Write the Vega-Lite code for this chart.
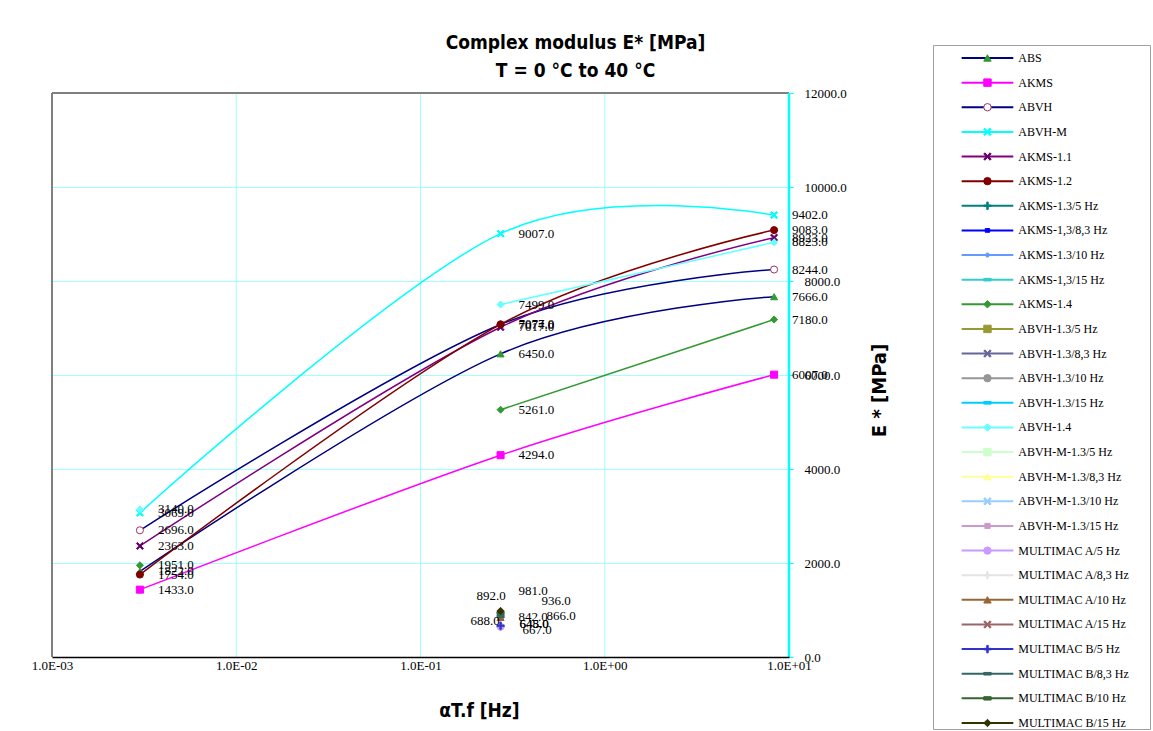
{
  "$schema": "https://vega.github.io/schema/vega-lite/v6.json",
  "background": "white",
  "padding": {"left": 31, "top": 33, "right": 0, "bottom": 0},
  "spacing": 43,
  "config": {"view": {"stroke": null}, "font": "Liberation Serif"},
  "datasets": {
    "pts": [
      {"s": "ABS", "f": 0.003, "E": 1822, "g": "a"},
      {"s": "ABS", "f": 0.272, "E": 6450, "g": "a"},
      {"s": "ABS", "f": 8.3, "E": 7666, "g": "a"},
      {"s": "AKMS", "f": 0.003, "E": 1433, "g": "a"},
      {"s": "AKMS", "f": 0.272, "E": 4294, "g": "a"},
      {"s": "AKMS", "f": 8.3, "E": 6007, "g": "a"},
      {"s": "ABVH", "f": 0.003, "E": 2696, "g": "a"},
      {"s": "ABVH", "f": 0.272, "E": 7074, "g": "a"},
      {"s": "ABVH", "f": 8.3, "E": 8244, "g": "a"},
      {"s": "ABVH-M", "f": 0.003, "E": 3069, "g": "a"},
      {"s": "ABVH-M", "f": 0.272, "E": 9007, "g": "a"},
      {"s": "ABVH-M", "f": 8.3, "E": 9402, "g": "a"},
      {"s": "AKMS-1.1", "f": 0.003, "E": 2363, "g": "a"},
      {"s": "AKMS-1.1", "f": 0.272, "E": 7017, "g": "a"},
      {"s": "AKMS-1.1", "f": 8.3, "E": 8923, "g": "a"},
      {"s": "AKMS-1.2", "f": 0.003, "E": 1754, "g": "a"},
      {"s": "AKMS-1.2", "f": 0.272, "E": 7077, "g": "a"},
      {"s": "AKMS-1.2", "f": 8.3, "E": 9083, "g": "a"},
      {"s": "AKMS-1.4", "f": 0.003, "E": 1951, "g": "iso"},
      {"s": "AKMS-1.4", "f": 0.272, "E": 5261, "g": "a"},
      {"s": "AKMS-1.4", "f": 8.3, "E": 7180, "g": "a"},
      {"s": "ABVH-1.4", "f": 0.003, "E": 3140, "g": "iso"},
      {"s": "ABVH-1.4", "f": 0.272, "E": 7499, "g": "a"},
      {"s": "ABVH-1.4", "f": 8.3, "E": 8823, "g": "a"},
      {"s": "AKMS-1.3/5 Hz", "f": 0.272, "E": 648, "g": "a"},
      {"s": "MULTIMAC A/5 Hz", "f": 0.272, "E": 645, "g": "a"},
      {"s": "MULTIMAC A/8,3 Hz", "f": 0.272, "E": 688, "g": "a"},
      {"s": "MULTIMAC A/10 Hz", "f": 0.272, "E": 842, "g": "a"},
      {"s": "MULTIMAC A/15 Hz", "f": 0.272, "E": 892, "g": "a"},
      {"s": "MULTIMAC B/5 Hz", "f": 0.272, "E": 667, "g": "a"},
      {"s": "MULTIMAC B/8,3 Hz", "f": 0.272, "E": 866, "g": "a"},
      {"s": "MULTIMAC B/10 Hz", "f": 0.272, "E": 936, "g": "a"},
      {"s": "MULTIMAC B/15 Hz", "f": 0.272, "E": 981, "g": "a"}
    ],
    "legend": [
      {"s": "ABS"}, {"s": "AKMS"}, {"s": "ABVH"}, {"s": "ABVH-M"}, {"s": "AKMS-1.1"}, {"s": "AKMS-1.2"},
      {"s": "AKMS-1.3/5 Hz"}, {"s": "AKMS-1,3/8,3 Hz"}, {"s": "AKMS-1.3/10 Hz"}, {"s": "AKMS-1,3/15 Hz"},
      {"s": "AKMS-1.4"}, {"s": "ABVH-1.3/5 Hz"}, {"s": "ABVH-1.3/8,3 Hz"}, {"s": "ABVH-1.3/10 Hz"},
      {"s": "ABVH-1.3/15 Hz"}, {"s": "ABVH-1.4"}, {"s": "ABVH-M-1.3/5 Hz"}, {"s": "ABVH-M-1.3/8,3 Hz"},
      {"s": "ABVH-M-1.3/10 Hz"}, {"s": "ABVH-M-1.3/15 Hz"}, {"s": "MULTIMAC A/5 Hz"}, {"s": "MULTIMAC A/8,3 Hz"},
      {"s": "MULTIMAC A/10 Hz"}, {"s": "MULTIMAC A/15 Hz"}, {"s": "MULTIMAC B/5 Hz"}, {"s": "MULTIMAC B/8,3 Hz"},
      {"s": "MULTIMAC B/10 Hz"}, {"s": "MULTIMAC B/15 Hz"}
    ]
  },
  "hconcat": [
    {
      "width": 737,
      "height": 612,
      "data": {"name": "pts"},
      "resolve": {"axis": {"x": "independent", "y": "independent"}},
      "layer": [
        {
          "data": {"values": [{"t": 0.01}, {"t": 0.1}, {"t": 1}]},
          "mark": {"type": "rule", "color": "#A0FFFF", "strokeWidth": 1},
          "encoding": {
            "x": {"field": "t", "type": "quantitative", "scale": {"type": "log", "domain": [0.001, 10]}, "axis": null},
            "y": {"datum": 0, "type": "quantitative", "scale": {"domain": [0, 13021.3], "nice": false}, "axis": null},
            "y2": {"datum": 12000}
          }
        },
        {
          "mark": {"type": "line", "interpolate": "cardinal", "strokeWidth": 1.5},
          "transform": [{"filter": "datum.g != 'iso'"}],
          "encoding": {
            "x": {"field": "f", "type": "quantitative", "scale": {"type": "log", "domain": [0.001, 10]}, "axis": {
              "orient": "bottom", "title": "αT.f [Hz]", "values": [0.001, 0.01, 0.1, 1, 10],
              "labelExpr": "'1.0E' + (datum.value < 1 ? '-' : '+') + (abs(round(log(datum.value)/LN10)) < 10 ? '0' : '') + abs(round(log(datum.value)/LN10))",
              "labelFont": "Liberation Serif", "labelFontSize": 13, "labelColor": "black", "labelPadding": 2,
              "labelFlush": false, "labelOverlap": false,
              "ticks": false, "domainColor": "black", "domainWidth": 1.5, "grid": false,
              "titleFont": "DejaVu Sans Condensed, sans-serif", "titleFontSize": 19,
              "titleFontWeight": "bold", "titleColor": "black", "titleX": 427, "titleY": 53,
              "titleBaseline": "middle", "titleAlign": "center", "zindex": 1
            }},
            "y": {"field": "E", "type": "quantitative", "scale": {"domain": [0, 13021.3], "nice": false}, "axis": {
              "orient": "right", "title": "E * [MPa]", "values": [0, 2000, 4000, 6000, 8000, 10000, 12000], "format": ".1f",
              "labelFont": "Liberation Serif", "labelFontSize": 13, "labelColor": "black", "labelAlign": "left",
              "labelPadding": 11, "tickSize": 4, "tickColor": "#00FFFF", "domain": false,
              "grid": true, "gridColor": "#A0FFFF", "gridWidth": 1,
              "titleFont": "DejaVu Sans Condensed, sans-serif", "titleFontSize": 20,
              "titleFontWeight": "bold", "titleColor": "black", "titleAngle": 270, "titleX": 90, "titleY": 345,
              "titleAlign": "center", "titleBaseline": "middle"
            }},
            "color": {"field": "s", "type": "nominal", "legend": null, "scale": {
              "domain": ["ABS", "AKMS", "ABVH", "ABVH-M", "AKMS-1.1", "AKMS-1.2", "AKMS-1.3/5 Hz", "AKMS-1,3/8,3 Hz", "AKMS-1.3/10 Hz", "AKMS-1,3/15 Hz", "AKMS-1.4", "ABVH-1.3/5 Hz", "ABVH-1.3/8,3 Hz", "ABVH-1.3/10 Hz", "ABVH-1.3/15 Hz", "ABVH-1.4", "ABVH-M-1.3/5 Hz", "ABVH-M-1.3/8,3 Hz", "ABVH-M-1.3/10 Hz", "ABVH-M-1.3/15 Hz", "MULTIMAC A/5 Hz", "MULTIMAC A/8,3 Hz", "MULTIMAC A/10 Hz", "MULTIMAC A/15 Hz", "MULTIMAC B/5 Hz", "MULTIMAC B/8,3 Hz", "MULTIMAC B/10 Hz", "MULTIMAC B/15 Hz"],
              "range": ["#000080", "#FF00FF", "#000080", "#00FFFF", "#800080", "#800000", "#008080", "#0000FF", "#6699FF", "#33CCCC", "#339933", "#999933", "#666699", "#969696", "#00CCFF", "#66FFFF", "#CCFFCC", "#FFFF99", "#99CCFF", "#CC99CC", "#CC99FF", "#E3E3E3", "#996633", "#996666", "#3333CC", "#336666", "#336633", "#333300"]
            }},
            "detail": {"field": "g"}
          }
        },
        {
          "data": {"values": [{}]},
          "mark": {"type": "rule", "color": "#808080", "strokeWidth": 2},
          "encoding": {
            "x": {"datum": 0.001, "type": "quantitative", "axis": null},
            "y": {"datum": 0, "type": "quantitative", "axis": null},
            "y2": {"datum": 12000}
          }
        },
        {
          "data": {"values": [{}]},
          "mark": {"type": "rule", "color": "#808080", "strokeWidth": 2},
          "encoding": {
            "x": {"datum": 0.001, "type": "quantitative", "axis": null},
            "x2": {"datum": 10},
            "y": {"datum": 12000, "type": "quantitative", "axis": null}
          }
        },
        {
          "data": {"values": [{}]},
          "mark": {"type": "rule", "color": "#00FFFF", "strokeWidth": 2.5},
          "encoding": {
            "x": {"datum": 10, "type": "quantitative", "axis": null},
            "y": {"datum": 0, "type": "quantitative", "axis": null},
            "y2": {"datum": 12000}
          }
        },
        {
          "mark": {"type": "point", "filled": true, "size": 50, "opacity": 1, "strokeWidth": 1},
          "encoding": {
            "x": {"field": "f", "type": "quantitative", "axis": {
              "orient": "top", "title": ["Complex modulus E* [MPa]", "T = 0 °C to 40 °C"],
              "titleFont": "DejaVu Sans Condensed, sans-serif", "titleFontSize": 19, "titleFontWeight": "bold",
              "titleColor": "black", "titleLineHeight": 28, "titleX": 523, "titleY": -12,
              "titleAlign": "center", "titleBaseline": "top", "titleAngle": 0,
              "labels": false, "ticks": false, "grid": false, "domain": false
            }},
            "y": {"field": "E", "type": "quantitative", "axis": null},
            "shape": {"field": "s", "type": "nominal", "legend": null, "scale": {
              "domain": ["ABS", "AKMS", "ABVH", "ABVH-M", "AKMS-1.1", "AKMS-1.2", "AKMS-1.3/5 Hz", "AKMS-1,3/8,3 Hz", "AKMS-1.3/10 Hz", "AKMS-1,3/15 Hz", "AKMS-1.4", "ABVH-1.3/5 Hz", "ABVH-1.3/8,3 Hz", "ABVH-1.3/10 Hz", "ABVH-1.3/15 Hz", "ABVH-1.4", "ABVH-M-1.3/5 Hz", "ABVH-M-1.3/8,3 Hz", "ABVH-M-1.3/10 Hz", "ABVH-M-1.3/15 Hz", "MULTIMAC A/5 Hz", "MULTIMAC A/8,3 Hz", "MULTIMAC A/10 Hz", "MULTIMAC A/15 Hz", "MULTIMAC B/5 Hz", "MULTIMAC B/8,3 Hz", "MULTIMAC B/10 Hz", "MULTIMAC B/15 Hz"],
              "range": ["triangle-up", "square", "circle",
                "M-1,-0.7L-0.7,-1L0,-0.3L0.7,-1L1,-0.7L0.3,0L1,0.7L0.7,1L0,0.3L-0.7,1L-1,0.7L-0.3,0Z",
                "M-1,-0.7L-0.7,-1L0,-0.3L0.7,-1L1,-0.7L0.3,0L1,0.7L0.7,1L0,0.3L-0.7,1L-1,0.7L-0.3,0Z",
                "circle",
                "M-1,-0.2H-0.2V-1H0.2V-0.2H1V0.2H0.2V1H-0.2V0.2H-1Z",
                "M-0.6,-0.5H0.6V0.5H-0.6Z",
                "M0.55,0A0.55,0.55 0 1,1 -0.55,0A0.55,0.55 0 1,1 0.55,0Z",
                "M-1,-0.35H1V0.35H-1Z",
                "diamond", "square",
                "M-1,-0.7L-0.7,-1L0,-0.3L0.7,-1L1,-0.7L0.3,0L1,0.7L0.7,1L0,0.3L-0.7,1L-1,0.7L-0.3,0Z",
                "circle",
                "M-1,-0.35H1V0.35H-1Z",
                "diamond", "square", "triangle-up",
                "M-1,-0.7L-0.7,-1L0,-0.3L0.7,-1L1,-0.7L0.3,0L1,0.7L0.7,1L0,0.3L-0.7,1L-1,0.7L-0.3,0Z",
                "M-0.7,-0.7H0.7V0.7H-0.7Z",
                "circle",
                "M-1,-0.15H-0.15V-1H0.15V-0.15H1V0.15H0.15V1H-0.15V0.15H-1Z",
                "triangle-up",
                "M-1,-0.7L-0.7,-1L0,-0.3L0.7,-1L1,-0.7L0.3,0L1,0.7L0.7,1L0,0.3L-0.7,1L-1,0.7L-0.3,0Z",
                "M-1,-0.2H-0.2V-1H0.2V-0.2H1V0.2H0.2V1H-0.2V0.2H-1Z",
                "M-1,-0.35H1V0.35H-1Z",
                "M-1,-0.45H1V0.45H-1Z",
                "diamond"]
            }},
            "fill": {"field": "s", "type": "nominal", "legend": null, "scale": {
              "domain": ["ABS", "AKMS", "ABVH", "ABVH-M", "AKMS-1.1", "AKMS-1.2", "AKMS-1.3/5 Hz", "AKMS-1,3/8,3 Hz", "AKMS-1.3/10 Hz", "AKMS-1,3/15 Hz", "AKMS-1.4", "ABVH-1.3/5 Hz", "ABVH-1.3/8,3 Hz", "ABVH-1.3/10 Hz", "ABVH-1.3/15 Hz", "ABVH-1.4", "ABVH-M-1.3/5 Hz", "ABVH-M-1.3/8,3 Hz", "ABVH-M-1.3/10 Hz", "ABVH-M-1.3/15 Hz", "MULTIMAC A/5 Hz", "MULTIMAC A/8,3 Hz", "MULTIMAC A/10 Hz", "MULTIMAC A/15 Hz", "MULTIMAC B/5 Hz", "MULTIMAC B/8,3 Hz", "MULTIMAC B/10 Hz", "MULTIMAC B/15 Hz"],
              "range": ["#339933", "#FF00FF", "#FFFFFF", "#00FFFF", "#660066", "#800000", "#008080", "#0000FF", "#6699FF", "#33CCCC", "#339933", "#999933", "#666699", "#969696", "#00CCFF", "#66FFFF", "#CCFFCC", "#FFFF99", "#99CCFF", "#CC99CC", "#CC99FF", "#E3E3E3", "#996633", "#996666", "#3333CC", "#336666", "#336633", "#333300"]
            }},
            "stroke": {"field": "s", "type": "nominal", "legend": null, "scale": {
              "domain": ["ABS", "AKMS", "ABVH", "ABVH-M", "AKMS-1.1", "AKMS-1.2", "AKMS-1.3/5 Hz", "AKMS-1,3/8,3 Hz", "AKMS-1.3/10 Hz", "AKMS-1,3/15 Hz", "AKMS-1.4", "ABVH-1.3/5 Hz", "ABVH-1.3/8,3 Hz", "ABVH-1.3/10 Hz", "ABVH-1.3/15 Hz", "ABVH-1.4", "ABVH-M-1.3/5 Hz", "ABVH-M-1.3/8,3 Hz", "ABVH-M-1.3/10 Hz", "ABVH-M-1.3/15 Hz", "MULTIMAC A/5 Hz", "MULTIMAC A/8,3 Hz", "MULTIMAC A/10 Hz", "MULTIMAC A/15 Hz", "MULTIMAC B/5 Hz", "MULTIMAC B/8,3 Hz", "MULTIMAC B/10 Hz", "MULTIMAC B/15 Hz"],
              "range": ["#339933", "#FF00FF", "#993366", "#00FFFF", "#660066", "#800000", "#008080", "#0000FF", "#6699FF", "#33CCCC", "#339933", "#999933", "#666699", "#969696", "#00CCFF", "#66FFFF", "#CCFFCC", "#FFFF99", "#99CCFF", "#CC99CC", "#CC99FF", "#E3E3E3", "#996633", "#996666", "#3333CC", "#336666", "#336633", "#333300"]
            }}
          }
        },
        {
          "mark": {"type": "text", "align": "left", "baseline": "middle", "dx": 18, "font": "Liberation Serif", "fontSize": 13, "color": "black"},
          "transform": [{"filter": "indexof(['MULTIMAC B/15 Hz','MULTIMAC B/10 Hz','MULTIMAC A/15 Hz','MULTIMAC B/8,3 Hz','MULTIMAC A/8,3 Hz','MULTIMAC B/5 Hz','MULTIMAC A/5 Hz','AKMS-1.3/5 Hz'], datum.s) < 0"}],
          "encoding": {"x": {"field": "f", "type": "quantitative", "axis": null}, "y": {"field": "E", "type": "quantitative", "axis": null}, "text": {"field": "E", "type": "quantitative", "format": ".1f"}}
        },
        {
          "mark": {"type": "text", "align": "left", "baseline": "middle", "dx": 18, "dy": -20, "font": "Liberation Serif", "fontSize": 13, "color": "black"},
          "transform": [{"filter": "datum.s == 'MULTIMAC B/15 Hz'"}],
          "encoding": {"x": {"field": "f", "type": "quantitative", "axis": null}, "y": {"field": "E", "type": "quantitative", "axis": null}, "text": {"field": "E", "type": "quantitative", "format": ".1f"}}
        },
        {
          "mark": {"type": "text", "align": "left", "baseline": "middle", "dx": 41, "dy": -12, "font": "Liberation Serif", "fontSize": 13, "color": "black"},
          "transform": [{"filter": "datum.s == 'MULTIMAC B/10 Hz'"}],
          "encoding": {"x": {"field": "f", "type": "quantitative", "axis": null}, "y": {"field": "E", "type": "quantitative", "axis": null}, "text": {"field": "E", "type": "quantitative", "format": ".1f"}}
        },
        {
          "mark": {"type": "text", "align": "left", "baseline": "middle", "dx": -24, "dy": -19, "font": "Liberation Serif", "fontSize": 13, "color": "black"},
          "transform": [{"filter": "datum.s == 'MULTIMAC A/15 Hz'"}],
          "encoding": {"x": {"field": "f", "type": "quantitative", "axis": null}, "y": {"field": "E", "type": "quantitative", "axis": null}, "text": {"field": "E", "type": "quantitative", "format": ".1f"}}
        },
        {
          "mark": {"type": "text", "align": "left", "baseline": "middle", "dx": 46, "dy": 0, "font": "Liberation Serif", "fontSize": 13, "color": "black"},
          "transform": [{"filter": "datum.s == 'MULTIMAC B/8,3 Hz'"}],
          "encoding": {"x": {"field": "f", "type": "quantitative", "axis": null}, "y": {"field": "E", "type": "quantitative", "axis": null}, "text": {"field": "E", "type": "quantitative", "format": ".1f"}}
        },
        {
          "mark": {"type": "text", "align": "left", "baseline": "middle", "dx": -30, "dy": -4, "font": "Liberation Serif", "fontSize": 13, "color": "black"},
          "transform": [{"filter": "datum.s == 'MULTIMAC A/8,3 Hz'"}],
          "encoding": {"x": {"field": "f", "type": "quantitative", "axis": null}, "y": {"field": "E", "type": "quantitative", "axis": null}, "text": {"field": "E", "type": "quantitative", "format": ".1f"}}
        },
        {
          "mark": {"type": "text", "align": "left", "baseline": "middle", "dx": 22, "dy": 4, "font": "Liberation Serif", "fontSize": 13, "color": "black"},
          "transform": [{"filter": "datum.s == 'MULTIMAC B/5 Hz'"}],
          "encoding": {"x": {"field": "f", "type": "quantitative", "axis": null}, "y": {"field": "E", "type": "quantitative", "axis": null}, "text": {"field": "E", "type": "quantitative", "format": ".1f"}}
        },
        {
          "mark": {"type": "text", "align": "left", "baseline": "middle", "dx": 19, "dy": -3, "font": "Liberation Serif", "fontSize": 13, "color": "black"},
          "transform": [{"filter": "datum.s == 'MULTIMAC A/5 Hz' || datum.s == 'AKMS-1.3/5 Hz'"}],
          "encoding": {"x": {"field": "f", "type": "quantitative", "axis": null}, "y": {"field": "E", "type": "quantitative", "axis": null}, "text": {"field": "E", "type": "quantitative", "format": ".1f"}}
        }
      ]
    },
    {
      "width": 217,
      "height": 684,
      "view": {"stroke": "#A0A0A0", "strokeWidth": 1},
      "data": {"name": "legend"},
      "encoding": {
        "y": {"field": "s", "type": "ordinal", "sort": null, "scale": {"type": "point", "padding": 0.386, "align": 0.684}, "axis": null}
      },
      "layer": [
        {
          "mark": {"type": "rule", "strokeWidth": 2},
          "encoding": {
            "x": {"datum": 13.2, "type": "quantitative", "scale": {"domain": [0, 100]}, "axis": null},
            "x2": {"datum": 37},
            "color": {"field": "s", "type": "nominal", "legend": null}
          }
        },
        {
          "mark": {"type": "point", "filled": true, "size": 55, "opacity": 1, "strokeWidth": 1},
          "encoding": {
            "x": {"datum": 25.1, "type": "quantitative"},
            "shape": {"field": "s", "type": "nominal", "legend": null},
            "fill": {"field": "s", "type": "nominal", "legend": null},
            "stroke": {"field": "s", "type": "nominal", "legend": null}
          }
        },
        {
          "mark": {"type": "text", "align": "left", "baseline": "middle", "font": "Liberation Serif", "fontSize": 12, "color": "black"},
          "encoding": {
            "x": {"datum": 39.3, "type": "quantitative"},
            "text": {"field": "s", "type": "nominal"}
          }
        }
      ]
    }
  ]
}
